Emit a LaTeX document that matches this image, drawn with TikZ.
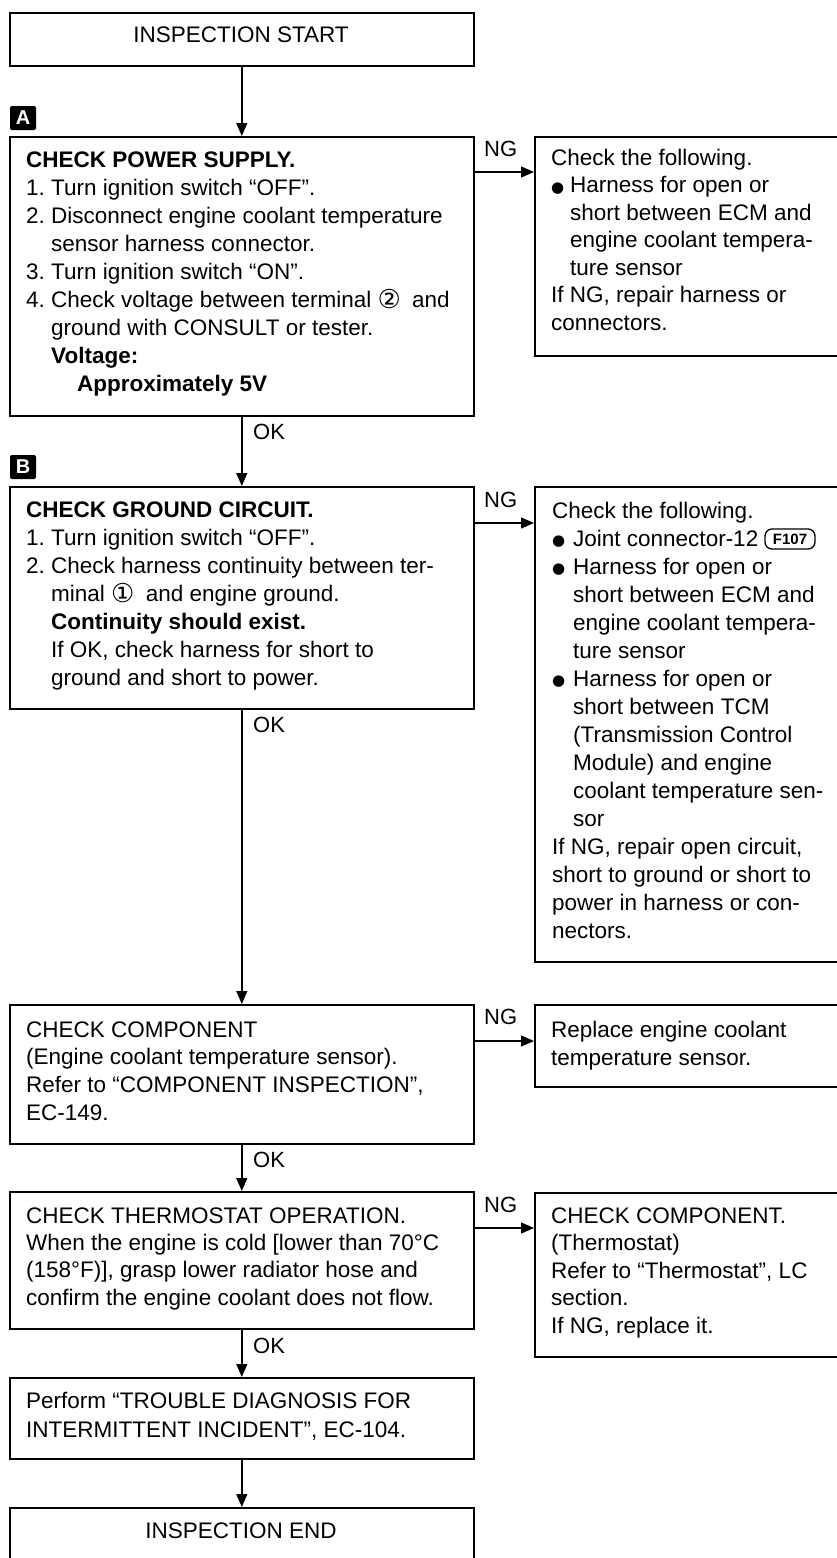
\documentclass[tikz,border=0pt]{standalone}
\usepackage{fontspec}
\setmainfont{Liberation Sans}
\newfontfamily\symfont{DejaVu Sans}
\usetikzlibrary{arrows.meta}
% first-line strut: the text block top sits 18pt above the first baseline
\newcommand\fl{\rule{0pt}{18pt}}
% step number with hanging indent
\newcommand\nb[1]{\makebox[25pt][l]{#1}}
\newcommand\ind{\hspace*{25pt}}
% bullet followed by its indent
\newcommand\bul[1]{\makebox[#1][l]{\raisebox{0.5pt}{\symfont\fontsize{15}{15}\selectfont ●}}}
\newcommand\circnum[1]{\raisebox{-1pt}{\symfont\fontsize{26}{26}\selectfont #1}}
\begin{document}
\begin{tikzpicture}[x=1pt,y=-1pt,
  box/.style={draw, line width=1.6pt, rectangle, inner sep=0pt, anchor=north west},
  txt/.style={anchor=north west, inner sep=0pt, align=left, font=\fontsize{22.5}{#1}\selectfont},
  txt/.default=28,
  lbl/.style={anchor=base west, inner sep=0pt, font=\fontsize{22}{22}\selectfont},
  ctr/.style={anchor=base, inner sep=0pt, font=\fontsize{22.5}{22.5}\selectfont},
  arr/.style={line width=1.4pt, -{Triangle[length=13pt,width=11pt]}},
  tag/.style={fill=black, text=white, rounded corners=2pt, inner sep=0pt,
    minimum width=26pt, minimum height=24pt, font=\bfseries\fontsize{20}{20}\selectfont},
  conn/.style={draw, line width=1.3pt, rounded corners=7pt, inner sep=0pt,
    minimum width=50pt, minimum height=20pt, font=\bfseries\fontsize{15}{15}\selectfont}
]
\fill[white] (0,0) rectangle (837,1558);
\useasboundingbox (0,0) rectangle (837,1558);

% ---- boxes of the main column ----
\node[box, minimum width=464pt, minimum height=53pt]  (start)   at (9,12)   {};
\node[box, minimum width=464pt, minimum height=279pt] (boxA)    at (9,136)  {};
\node[box, minimum width=464pt, minimum height=222pt] (boxB)    at (9,486)  {};
\node[box, minimum width=464pt, minimum height=139pt] (comp)    at (9,1004) {};
\node[box, minimum width=464pt, minimum height=137pt] (thermo)  at (9,1191) {};
\node[box, minimum width=464pt, minimum height=81pt]  (perform) at (9,1377) {};
\node[box, minimum width=464pt, minimum height=70pt]  (finish)  at (9,1507) {};

% ---- boxes of the NG column (open past the right edge) ----
\node[box, minimum width=312pt, minimum height=219pt] (ngA)     at (534,136)  {};
\node[box, minimum width=312pt, minimum height=475pt] (ngB)     at (534,486)  {};
\node[box, minimum width=312pt, minimum height=82pt]  (ngComp)  at (534,1004) {};
\node[box, minimum width=312pt, minimum height=164pt] (ngTherm) at (534,1192) {};

% ---- step tags ----
\node[tag] (tagA) at (23,118) {A};
\node[tag] (tagB) at (23,467) {B};

% ---- texts ----
\node[ctr] (tStart) at (241,42) {INSPECTION START};
\node[ctr] (tEnd) at (241,1538) {INSPECTION END};

\node[txt] (tA) at (26,149) {\fl\textbf{CHECK POWER SUPPLY.}\\
\nb{1.}Turn ignition switch “OFF”.\\
\nb{2.}Disconnect engine coolant temperature\\
\ind sensor harness connector.\\
\nb{3.}Turn ignition switch “ON”.\\
\nb{4.}Check voltage between terminal \circnum{②}\enspace and\\
\ind ground with CONSULT or tester.\\
\ind\textbf{Voltage:}\\
\hspace*{51pt}\textbf{Approximately 5V}};

\node[txt=27.5] (tNgA) at (551,147) {\fl Check the following.\\
\bul{19pt}Harness for open or\\
\hspace*{19pt}short between ECM and\\
\hspace*{19pt}engine coolant tempera-\\
\hspace*{19pt}ture sensor\\
If NG, repair harness or\\
connectors.};

\node[txt] (tB) at (26,499) {\fl\textbf{CHECK GROUND CIRCUIT.}\\
\nb{1.}Turn ignition switch “OFF”.\\
\nb{2.}Check harness continuity between ter-\\
\ind minal \circnum{①}\enspace and engine ground.\\
\ind\textbf{Continuity should exist.}\\
\ind If OK, check harness for short to\\
\ind ground and short to power.};

\node[txt] (tNgB) at (552,500) {\fl Check the following.\\
\bul{21pt}Joint connector-12\\
\bul{21pt}Harness for open or\\
\hspace*{21pt}short between ECM and\\
\hspace*{21pt}engine coolant tempera-\\
\hspace*{21pt}ture sensor\\
\bul{21pt}Harness for open or\\
\hspace*{21pt}short between TCM\\
\hspace*{21pt}(Transmission Control\\
\hspace*{21pt}Module) and engine\\
\hspace*{21pt}coolant temperature sen-\\
\hspace*{21pt}sor\\
If NG, repair open circuit,\\
short to ground or short to\\
power in harness or con-\\
nectors.};
\node[conn] (f107) at (790,539) {F107};

\node[txt=27.7] (tComp) at (26,1019) {\fl CHECK COMPONENT\\
(Engine coolant temperature sensor).\\
Refer to “COMPONENT INSPECTION”,\\
EC-149.};

\node[txt] (tNgComp) at (551,1019) {\fl Replace engine coolant\\
temperature sensor.};

\node[txt=27.3] (tThermo) at (26,1205) {\fl CHECK THERMOSTAT OPERATION.\\
When the engine is cold [lower than 70°C\\
(158°F)], grasp lower radiator hose and\\
confirm the engine coolant does not flow.};

\node[txt=27.5] (tNgTherm) at (551,1205) {\fl CHECK COMPONENT.\\
(Thermostat)\\
Refer to “Thermostat”, LC\\
section.\\
If NG, replace it.};

\node[txt=29] (tPerform) at (26,1390) {\fl Perform “TROUBLE DIAGNOSIS FOR\\
INTERMITTENT INCIDENT”, EC-104.};

% ---- OK flow ----
\draw[arr] (start.south) -- (boxA.north);
\draw[arr] (boxA.south) -- (boxB.north);
\draw[arr] (boxB.south) -- (comp.north);
\draw[arr] (comp.south) -- (thermo.north);
\draw[arr] (thermo.south) -- (perform.north);
\draw[arr] (perform.south) -- (finish.north);

\node[lbl] (okA) at (253,439) {OK};
\node[lbl] (okB) at (253,732) {OK};
\node[lbl] (okComp) at (253,1167) {OK};
\node[lbl] (okTherm) at (253,1353) {OK};

% ---- NG branches ----
\coordinate (yA) at (0,172);
\coordinate (yB) at (0,523);
\coordinate (yComp) at (0,1041);
\coordinate (yTherm) at (0,1228);
\draw[arr] (boxA.east |- yA) -- (ngA.west |- yA);
\draw[arr] (boxB.east |- yB) -- (ngB.west |- yB);
\draw[arr] (comp.east |- yComp) -- (ngComp.west |- yComp);
\draw[arr] (thermo.east |- yTherm) -- (ngTherm.west |- yTherm);

\node[lbl] (ngLA) at (484,156) {NG};
\node[lbl] (ngLB) at (484,507) {NG};
\node[lbl] (ngLComp) at (484,1024) {NG};
\node[lbl] (ngLTherm) at (484,1212) {NG};
\end{tikzpicture}
\end{document}
